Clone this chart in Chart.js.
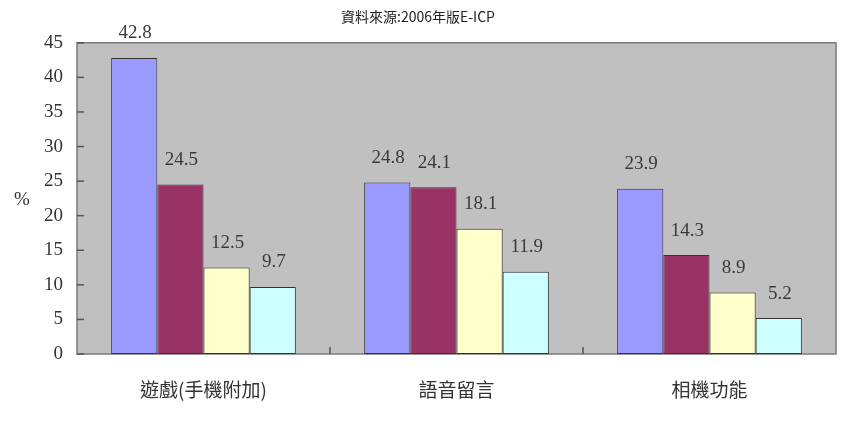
<!DOCTYPE html>
<html>
<head>
<meta charset="utf-8">
<script src="https://cdn.jsdelivr.net/npm/chart.js@4"></script>
<style>
  html, body { margin: 0; padding: 0; background: #fff; }
  #wrap { width: 842px; height: 429px; }
</style>
</head>
<body>
<div id="wrap"><canvas id="survey"></canvas></div>
<script>
const categories = ['遊戲(手機附加)', '語音留言', '相機功能'];
const series1 = [42.8, 24.8, 23.9];
const series2 = [24.5, 24.1, 14.3];
const series3 = [12.5, 18.1, 8.9];
const series4 = [9.7, 11.9, 5.2];
const yTicks = [0, 5, 10, 15, 20, 25, 30, 35, 40, 45];

// gray plot area + frame, inner tick marks
const plotBg = {
    id: 'plotBg',
    beforeDatasetsDraw(chart) {
        const { ctx, chartArea: a } = chart;
        ctx.save();
        ctx.fillStyle = '#c0c0c0';
        ctx.fillRect(a.left, a.top, a.right - a.left, a.bottom - a.top);
        ctx.strokeStyle = '#7a7a7a';
        ctx.lineWidth = 1.5;
        ctx.strokeRect(a.left, a.top, a.right - a.left, a.bottom - a.top);
        const y = chart.scales.y, x = chart.scales.x;
        ctx.strokeStyle = '#555';
        ctx.lineWidth = 1.5;
        yTicks.forEach(v => {
            const py = y.getPixelForValue(v);
            ctx.beginPath(); ctx.moveTo(a.left, py); ctx.lineTo(a.left + 7, py); ctx.stroke();
        });
        for (let i = 1; i < categories.length; i++) {
            const px = (x.getPixelForValue(i - 1) + x.getPixelForValue(i)) / 2;
            ctx.beginPath(); ctx.moveTo(px, a.bottom); ctx.lineTo(px, a.bottom - 7); ctx.stroke();
        }
        // % label
        ctx.fillStyle = '#333';
        ctx.font = '19px "Liberation Serif"';
        ctx.textAlign = 'center';
        ctx.textBaseline = 'middle';
        ctx.fillText('%', 22, (a.top + a.bottom) / 2 + 2);
        ctx.restore();
    }
};

// value labels above the bars
const barLabels = {
    id: 'barLabels',
    afterDatasetsDraw(chart) {
        const { ctx } = chart;
        ctx.save();
        ctx.fillStyle = '#3a3a3a';
        ctx.font = '19px "Liberation Serif"';
        ctx.textAlign = 'center';
        ctx.textBaseline = 'bottom';
        chart.data.datasets.forEach((ds, i) => {
            chart.getDatasetMeta(i).data.forEach((bar, j) => {
                ctx.fillText(ds.data[j].toFixed(1), bar.x + 1, bar.y - 15);
            });
        });
        ctx.restore();
    }
};

new Chart(document.getElementById('survey'), {
    type: 'bar',
    data: {
        labels: categories,
        datasets: [
            { data: series1, backgroundColor: '#9999ff' },
            { data: series2, backgroundColor: '#993366' },
            { data: series3, backgroundColor: '#ffffcc' },
            { data: series4, backgroundColor: '#ccffff' }
        ].map(d => Object.assign(d, { borderColor: '#333', borderWidth: 1, borderSkipped: false }))
    },
    options: {
        responsive: true,
        maintainAspectRatio: false,
        animation: false,
        layout: { padding: { left: 0, right: 6, top: 0, bottom: 0 } },
        datasets: { bar: { categoryPercentage: 0.73, barPercentage: 1 } },
        plugins: {
            legend: { display: false },
            tooltip: { enabled: false },
            title: {
                display: true,
                text: '資料來源:2006年版E-ICP',
                color: '#222',
                font: { family: '"Noto Sans CJK TC"', size: 14, weight: 'normal' },
                padding: { top: 8, bottom: 18 }
            }
        },
        scales: {
            x: {
                grid: { display: false, drawTicks: false },
                border: { display: false },
                ticks: { color: '#333', padding: 24, font: { family: '"Noto Sans CJK TC"', size: 19 } },
                afterFit(s) { s.height = 75; }
            },
            y: {
                min: 0, max: 45,
                grid: { display: false, drawTicks: false },
                border: { display: false },
                afterBuildTicks(s) { s.ticks = yTicks.map(v => ({ value: v })); },
                ticks: { color: '#333', padding: 14, font: { family: '"Liberation Serif"', size: 19 } },
                afterFit(s) { s.width = 77; }
            }
        }
    },
    plugins: [plotBg, barLabels]
});
</script>
</body>
</html>
